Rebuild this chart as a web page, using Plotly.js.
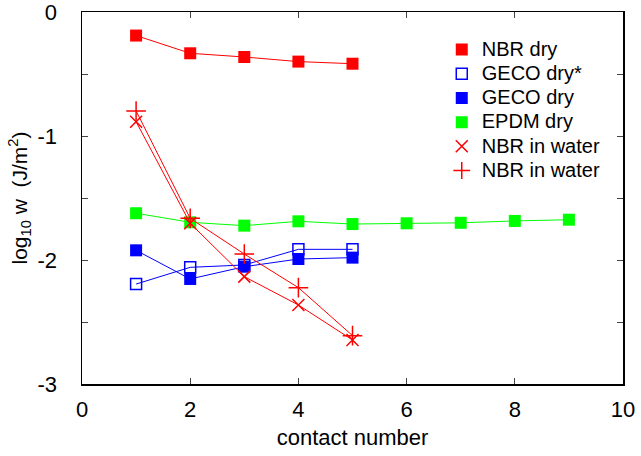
<!DOCTYPE html>
<html>
<head>
<meta charset="utf-8">
<script src="https://cdn.plot.ly/plotly-3.0.1.min.js"></script>
<style>html,body{margin:0;padding:0;background:#fff;}#chart{width:641px;height:456px;}</style>
</head>
<body>
<div id="chart"></div>
<script>
// contact numbers
const contactShort = [1, 2, 3, 4, 5];
const contactEPDM = [1, 2, 3, 4, 5, 6, 7, 8, 9];
// log10 w (J/m^2)
const nbrDry = [-0.19, -0.333, -0.363, -0.40, -0.417];
const gecoDryStar = [-2.194, -2.059, -2.04, -1.914, -1.914];
const gecoDry = [-1.922, -2.153, -2.054, -1.992, -1.981];
const epdmDry = [-1.623, -1.696, -1.723, -1.688, -1.71, -1.704, -1.70, -1.685, -1.675];
const nbrWaterX = [-0.885, -1.704, -2.134, -2.363, -2.645];
const nbrWaterPlus = [-0.798, -1.664, -1.952, -2.223, -2.61];
const names = ['NBR dry', 'GECO dry*', 'GECO dry', 'EPDM dry', 'NBR in water', 'NBR in water'];
const yTickVals = [0, -0.5, -1, -1.5, -2, -2.5, -3];
const yTickText = ['0', '', '-1', '', '-2', '', '-3'];
const xTickVals = [0, 2, 4, 6, 8, 10];

const RED = '#ff0000', BLUE = '#0000ff', GREEN = '#00ff00';
const markers = [
  {symbol: 'square', size: 12, color: RED},
  {symbol: 'square-open', size: 11, color: BLUE, line: {color: BLUE, width: 1.5}},
  {symbol: 'square', size: 12, color: BLUE},
  {symbol: 'square', size: 12, color: GREEN},
  {symbol: 'x-thin', size: 12, color: RED, line: {color: RED, width: 1.5}},
  {symbol: 'cross-thin', size: 14, color: RED, line: {color: RED, width: 1.5}}
];
const xs = [contactShort, contactShort, contactShort, contactEPDM, contactShort, contactShort];
const ys = [nbrDry, gecoDryStar, gecoDry, epdmDry, nbrWaterX, nbrWaterPlus];
const lineColors = [RED, BLUE, BLUE, GREEN, RED, RED];

const traces = [];
for (let i = 0; i < ys.length; i++) {
  traces.push({x: xs[i], y: ys[i], mode: 'lines+markers', showlegend: false, hoverinfo: 'skip',
               line: {color: lineColors[i], width: 1}, marker: markers[i]});
}
// legend entries (markers only, as in the reference)
for (let i = 0; i < names.length; i++) {
  traces.push({x: [null], y: [null], mode: 'markers', showlegend: true,
               name: '<span style="font-size:20px">' + names[i] + '</span>',
               marker: Object.assign({}, markers[i], {size: Math.min(markers[i].size, 12)})});
}

const FAM = 'Liberation Sans, Arial, sans-serif';
const layout = {
  width: 641, height: 456,
  margin: {l: 82, r: 18, t: 12, b: 72},
  paper_bgcolor: '#fff', plot_bgcolor: '#fff',
  font: {family: FAM, size: 20, color: '#000'},
  showlegend: true,
  legend: {x: 0.665, y: 0.945, xanchor: 'left', yanchor: 'top', bgcolor: 'rgba(0,0,0,0)',
           font: {family: FAM, size: 16.3, color: '#000'}, tracegroupgap: 0, itemwidth: 30},
  xaxis: {
    range: [0, 10], tickvals: xTickVals, ticks: 'inside', ticklen: 6, tickwidth: 1,
    showline: true, linecolor: '#000', linewidth: 1.5, mirror: 'ticks', showgrid: false, zeroline: false,
    tickfont: {size: 22}, ticklabelstandoff: 5, ticklabeloverflow: 'allow',
    title: {text: 'contact number', font: {size: 22}, standoff: 8}
  },
  yaxis: {
    range: [-3, 0], tickvals: yTickVals, ticktext: yTickText, ticks: 'inside', ticklen: 6, tickwidth: 1,
    showline: true, linecolor: '#000', linewidth: 1.5, mirror: 'ticks', showgrid: false, zeroline: false,
    tickfont: {size: 22}, ticklabelstandoff: 19, ticklabeloverflow: 'allow',
    title: {text: 'log<sub>10</sub> w  (J/m<sup>2</sup>)', font: {size: 21}, standoff: 4}
  }
};
Plotly.newPlot('chart', traces, layout, {displayModeBar: false, staticPlot: true});
</script>
</body>
</html>
